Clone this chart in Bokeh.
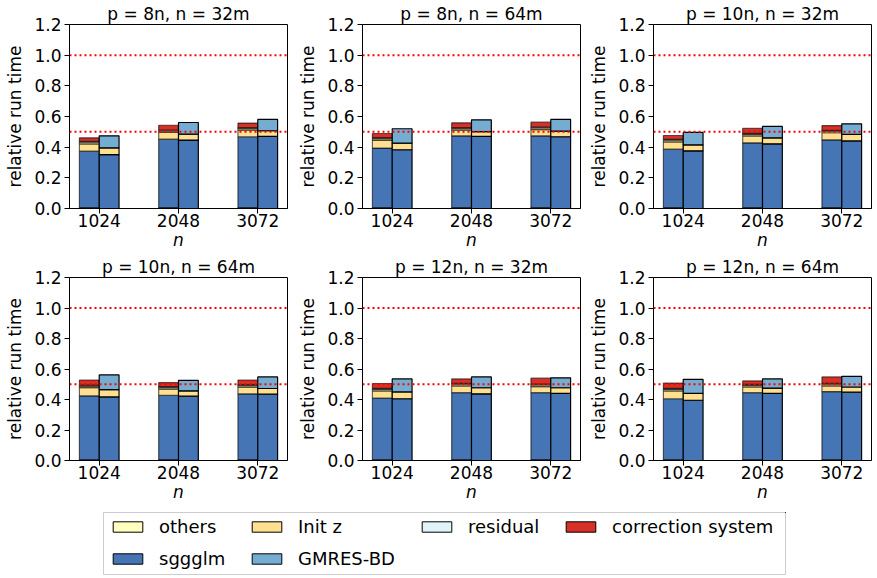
import numpy as np
from bokeh.plotting import figure
from bokeh.models import Range1d, FixedTicker, Span, Legend, LegendItem, PrintfTickFormatter
from bokeh.layouts import column, row
from bokeh.embed import file_html
from bokeh.resources import INLINE

# ---------------- data ----------------
n_labels = ["1024", "2048", "3072"]
titles = ["p = 8n, n = 32m", "p = 8n, n = 64m", "p = 10n, n = 32m",
          "p = 10n, n = 64m", "p = 12n, n = 32m", "p = 12n, n = 64m"]

# left bar of each pair (with correction system)
left_base = [[0.006, 0.006, 0.006]] * 6
left_sggglm = [[0.368, 0.446, 0.462], [0.388, 0.468, 0.468], [0.381, 0.422, 0.442],
               [0.418, 0.422, 0.431], [0.404, 0.439, 0.439], [0.399, 0.439, 0.446]]
left_initz = [[0.048, 0.044, 0.043], [0.052, 0.037, 0.041], [0.048, 0.046, 0.046],
              [0.054, 0.040, 0.044], [0.047, 0.045, 0.040], [0.052, 0.038, 0.038]]
left_others = [[0.010, 0.010, 0.010]] * 6
left_residual = [[0.006, 0.006, 0.006]] * 6
left_correction = [[0.023, 0.031, 0.030], [0.027, 0.032, 0.032], [0.025, 0.032, 0.031],
                   [0.034, 0.027, 0.031], [0.032, 0.029, 0.039], [0.035, 0.023, 0.042]]

# right bar of each pair (with GMRES-BD)
right_sggglm = [[0.352, 0.446, 0.470], [0.383, 0.470, 0.468], [0.376, 0.422, 0.441],
                [0.417, 0.422, 0.435], [0.405, 0.437, 0.440], [0.395, 0.440, 0.448]]
right_initz = [[0.044, 0.039, 0.037], [0.043, 0.032, 0.036], [0.039, 0.039, 0.042],
               [0.048, 0.035, 0.037], [0.045, 0.040, 0.037], [0.045, 0.035, 0.034]]
right_gmres = [[0.078, 0.076, 0.074], [0.094, 0.076, 0.077], [0.081, 0.074, 0.069],
               [0.096, 0.069, 0.076], [0.085, 0.071, 0.065], [0.092, 0.060, 0.070]]

ref_lines = [1.0, 0.5]
y_ticks = [0.0, 0.2, 0.4, 0.6, 0.8, 1.0, 1.2]

legend_names = ["others", "Init z", "residual", "correction system", "sggglm", "GMRES-BD"]
legend_colors = ["#ffffbf", "#fee090", "#e0f3f8", "#d73027", "#4575b4", "#74add1"]
colors = dict(zip(legend_names, legend_colors))
C_OTH, C_INIT, C_RES, C_COR, C_SG, C_GM = legend_colors

FONT = "DejaVu Sans"
FS = "17px"
BAR_W = 0.25


def make_panel(i, width, right_b, top_b, height):
    p = figure(width=width, height=height, output_backend="svg", toolbar_location=None,
               x_range=Range1d(-0.375, 2.375), y_range=Range1d(0, 1.2),
               min_border_left=69, min_border_right=right_b,
               min_border_top=top_b, min_border_bottom=46)
    p.title.text = titles[i]
    p.title.align = "center"
    p.title.text_font = FONT
    p.title.text_font_size = FS
    p.title.text_font_style = "normal"
    p.title.text_color = "black"
    p.title.standoff = 1

    x = np.arange(3)
    xl = x - BAR_W / 2
    xr = x + BAR_W / 2

    cum = np.zeros(3)
    for vals, col in [(left_base[i], C_OTH), (left_sggglm[i], C_SG), (left_initz[i], C_INIT),
                      (left_others[i], C_OTH), (left_residual[i], C_RES), (left_correction[i], C_COR)]:
        v = np.array(vals)
        p.vbar(x=xl, width=BAR_W, bottom=cum, top=cum + v, fill_color=col,
               line_color="black", line_alpha=0.6, line_width=1.2)
        cum = cum + v
    cum = np.zeros(3)
    for vals, col in [(right_sggglm[i], C_SG), (right_initz[i], C_INIT), (right_gmres[i], C_GM)]:
        v = np.array(vals)
        p.vbar(x=xr, width=BAR_W, bottom=cum, top=cum + v, fill_color=col,
               line_color="black", line_alpha=1.0, line_width=1.2)
        cum = cum + v

    for yv in ref_lines:
        p.add_layout(Span(location=yv, dimension="width", line_color="red",
                          line_dash="2 3", line_width=2))

    p.xgrid.visible = False
    p.ygrid.visible = False
    p.outline_line_color = "black"
    p.outline_line_alpha = 1
    p.outline_line_width = 1

    p.xaxis.ticker = FixedTicker(ticks=[0, 1, 2])
    p.xaxis.major_label_overrides = {0: n_labels[0], 1: n_labels[1], 2: n_labels[2]}
    p.yaxis.ticker = FixedTicker(ticks=y_ticks)
    p.yaxis.formatter = PrintfTickFormatter(format="%.1f")
    p.xaxis.axis_label = "n"
    p.xaxis.axis_label_text_font_style = "italic"
    p.yaxis.axis_label = "relative run time"
    p.yaxis.axis_label_text_font_style = "normal"
    for ax in (p.xaxis[0], p.yaxis[0]):
        ax.major_label_text_font = FONT
        ax.major_label_text_font_size = FS
        ax.axis_label_text_font = FONT
        ax.axis_label_text_font_size = FS
        ax.major_tick_in = 0
        ax.major_tick_out = 5
        ax.minor_tick_in = 0
        ax.minor_tick_out = 0
        ax.axis_line_color = "black"
        ax.major_tick_line_color = "black"
        ax.major_label_text_color = "black"
        ax.axis_label_text_color = "black"
    p.xaxis.major_label_standoff = 0
    p.xaxis.axis_label_standoff = 0
    p.yaxis.major_label_standoff = 3
    p.yaxis.axis_label_standoff = 6
    return p


widths = [293, 291, 293]
rights = [6, 4, 6]
panels = []
for i in range(6):
    if i < 3:
        panels.append(make_panel(i, widths[i % 3], rights[i % 3], 24, 254))
    else:
        panels.append(make_panel(i, widths[i % 3], rights[i % 3], 22, 252))

# ---------------- legend ----------------
lf = figure(width=877, height=72, output_backend="svg", toolbar_location=None,
            x_range=Range1d(0, 1), y_range=Range1d(0, 1),
            min_border_left=103, min_border_right=92, min_border_top=6, min_border_bottom=4)
lf.axis.visible = False
lf.xgrid.visible = False
lf.ygrid.visible = False
lf.outline_line_color = "#cccccc"
lf.outline_line_width = 1

# legend slots (screen offsets inside the legend box)
leg_pos = [(6, 37), (145, 37), (315, 37), (459, 37), (6, 5), (145, 5)]
for name, (lx, ly) in zip(legend_names, leg_pos):
    # proxy glyph lying outside the visible range: only its legend swatch is seen
    r = lf.vbar(x=[5.0], bottom=[5.0], top=[5.1], width=0.1, fill_color=colors[name],
                line_color="black", line_width=1)
    leg = Legend(items=[LegendItem(label=name, renderers=[r])],
                 location=(lx, ly), orientation="horizontal",
                 glyph_width=37, glyph_height=13, label_standoff=13, label_height=20,
                 padding=0, margin=0, spacing=0,
                 border_line_alpha=0, background_fill_alpha=0,
                 label_text_font=FONT, label_text_font_size="18px", label_text_color="black")
    lf.add_layout(leg)

layout = column(row(*panels[:3]), row(*panels[3:]), lf)

open("out.html", "w").write(file_html(layout, INLINE))
